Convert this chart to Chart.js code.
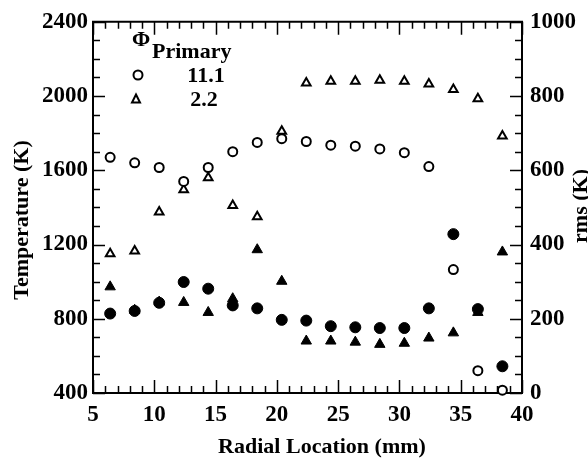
<!DOCTYPE html>
<html>
<head>
<meta charset="utf-8">
<script src="https://cdn.jsdelivr.net/npm/chart.js@4"></script>
<style>
  html, body { margin: 0; padding: 0; background: #fff; }
  #wrap { width: 588px; height: 461px; position: relative; }
</style>
</head>
<body>
<div id="wrap"><canvas id="tempChart"></canvas></div>
<script>
// Radial positions (mm)
const radial = [6.4, 8.4, 10.4, 12.4, 14.4, 16.4, 18.4, 20.4, 22.4, 24.4, 26.4, 28.4, 30.4, 32.4, 34.4, 36.4, 38.4];

// Mean temperature (K), left axis
const tempPhi11 = [1670, 1640, 1615, 1540, 1615, 1700, 1750, 1770, 1755, 1735, 1730, 1715, 1695, 1620, 1065, 520, 415];
const tempPhi22 = [1150, 1165, 1375, 1495, 1560, 1410, 1350, 1810, 2070, 2080, 2080, 2085, 2080, 2065, 2035, 1985, 1785];

// rms temperature (K), right axis
const rmsPhi11 = [214, 221, 243, 299, 281, 236, 228, 197, 195, 180, 177, 175, 175, 228, 428, 226, 72];
const rmsPhi22 = [286, 223, 245, 244, 217, 254, 386, 301, 140, 140, 137, 131, 134, 148, 162, 217, 380];

// Axis ticks
const xTicks = [5, 10, 15, 20, 25, 30, 35, 40];
const tempTicks = [400, 800, 1200, 1600, 2000, 2400];
const rmsTicks = [0, 200, 400, 600, 800, 1000];
const xMinorStep = 1;
const tempMinorStep = 100;
const rmsMinorStep = 50;

// Legend
const legendTitle = 'Φ';
const legendSub = 'Primary';
const legendLabels = ['11.1', '2.2'];

const FONT = "'Liberation Serif', 'DejaVu Serif', serif";
const tickFont = { family: FONT, size: 23, weight: 'bold' };

function pts(ys) {
    return radial.map((x, i) => ({ x: x, y: ys[i] }));
}

// inward tick marks, top border, axis titles, legend
const decorPlugin = {
    id: 'decor',
    afterDraw(chart) {
        const ctx = chart.ctx;
        const a = chart.chartArea;
        const sx = chart.scales.x, sy = chart.scales.y, sr = chart.scales.y2;
        ctx.save();
        ctx.strokeStyle = '#000';
        ctx.lineWidth = 2;

        // top border
        ctx.beginPath();
        ctx.moveTo(a.left - 1, a.top);
        ctx.lineTo(a.right + 1, a.top);
        ctx.stroke();

        ctx.lineWidth = 1.5;
        ctx.beginPath();
        // x ticks, bottom and top
        for (let v = sx.min; v <= sx.max + 1e-6; v += xMinorStep) {
            const px = Math.round(sx.getPixelForValue(v)) + 0.5;
            const len = (v % 5 === 0) ? 13 : 7;
            ctx.moveTo(px, a.bottom); ctx.lineTo(px, a.bottom - len);
            ctx.moveTo(px, a.top); ctx.lineTo(px, a.top + len);
        }
        // left ticks
        for (let v = sy.min; v <= sy.max + 1e-6; v += tempMinorStep) {
            const py = Math.round(sy.getPixelForValue(v)) + 0.5;
            const len = (v % 400 === 0) ? 12 : 7;
            ctx.moveTo(a.left, py); ctx.lineTo(a.left + len, py);
        }
        // right ticks
        for (let v = sr.min; v <= sr.max + 1e-6; v += rmsMinorStep) {
            const py = Math.round(sr.getPixelForValue(v)) + 0.5;
            const len = (v % 200 === 0) ? 12 : 7;
            ctx.moveTo(a.right, py); ctx.lineTo(a.right - len, py);
        }
        ctx.stroke();

        // axis titles
        ctx.fillStyle = '#000';
        ctx.font = 'bold 22px ' + FONT;
        ctx.textAlign = 'center';
        ctx.textBaseline = 'alphabetic';
        ctx.fillText('Radial Location (mm)', 322, 453);

        ctx.save();
        ctx.translate(28, 220);
        ctx.rotate(-Math.PI / 2);
        ctx.fillText('Temperature (K)', 0, 0);
        ctx.restore();

        ctx.save();
        ctx.translate(587, 206);
        ctx.rotate(-Math.PI / 2);
        ctx.fillText('rms (K)', 0, 0);
        ctx.restore();

        // legend
        ctx.textAlign = 'left';
        ctx.font = 'bold 22px ' + FONT;
        ctx.fillText(legendTitle, 132, 46);
        ctx.fillText(legendSub, 152, 58);
        ctx.textAlign = 'center';
        ctx.fillText(legendLabels[0], 206, 82);
        ctx.fillText(legendLabels[1], 204, 106);

        ctx.lineWidth = 2;
        ctx.beginPath();
        ctx.arc(138, 75, 4.5, 0, Math.PI * 2);
        ctx.stroke();
        ctx.beginPath();
        ctx.moveTo(136, 94.5);
        ctx.lineTo(140, 102.5);
        ctx.lineTo(132, 102.5);
        ctx.closePath();
        ctx.stroke();
        ctx.restore();
    }
};

function initChart() {
    const ctx = document.getElementById('tempChart').getContext('2d');
    new Chart(ctx, {
        type: 'scatter',
        data: {
            datasets: [{
                label: '11.1',
                data: pts(tempPhi11),
                yAxisID: 'y',
                pointStyle: 'circle',
                pointRadius: 4.5,
                borderColor: '#000',
                backgroundColor: '#fff',
                borderWidth: 2
            }, {
                label: '2.2',
                data: pts(tempPhi22),
                yAxisID: 'y',
                pointStyle: 'triangle',
                pointRadius: 5,
                borderColor: '#000',
                backgroundColor: '#fff',
                borderWidth: 2
            }, {
                label: 'rms 11.1',
                data: pts(rmsPhi11),
                yAxisID: 'y2',
                pointStyle: 'circle',
                pointRadius: 5.5,
                borderColor: '#000',
                backgroundColor: '#000',
                borderWidth: 1
            }, {
                label: 'rms 2.2',
                data: pts(rmsPhi22),
                yAxisID: 'y2',
                pointStyle: 'triangle',
                pointRadius: 6,
                borderColor: '#000',
                backgroundColor: '#000',
                borderWidth: 1
            }]
        },
        options: {
            responsive: true,
            maintainAspectRatio: false,
            animation: false,
            clip: false,
            layout: { padding: { top: 18, left: 0, right: 0, bottom: 0 } },
            plugins: {
                legend: { display: false },
                tooltip: { enabled: false }
            },
            scales: {
                x: {
                    type: 'linear',
                    min: 5,
                    max: 40,
                    afterBuildTicks: (s) => { s.ticks = xTicks.map(v => ({ value: v })); },
                    afterFit: (s) => { s.height = 68; },
                    grid: { display: false, drawTicks: false },
                    border: { display: true, color: '#000', width: 2 },
                    ticks: { color: '#000', padding: 8, maxRotation: 0, font: tickFont, callback: (v) => String(v) }
                },
                y: {
                    type: 'linear',
                    position: 'left',
                    min: 400,
                    max: 2400,
                    afterBuildTicks: (s) => { s.ticks = tempTicks.map(v => ({ value: v })); },
                    afterFit: (s) => { s.width = 93; },
                    grid: { display: false, drawTicks: false },
                    border: { display: true, color: '#000', width: 2 },
                    ticks: { color: '#000', padding: 5, font: tickFont, callback: (v) => String(v) }
                },
                y2: {
                    type: 'linear',
                    position: 'right',
                    min: 0,
                    max: 1000,
                    afterBuildTicks: (s) => { s.ticks = rmsTicks.map(v => ({ value: v })); },
                    afterFit: (s) => { s.width = 66; },
                    grid: { display: false, drawTicks: false },
                    border: { display: true, color: '#000', width: 2 },
                    ticks: { color: '#000', padding: 8, font: tickFont, callback: (v) => String(v) }
                }
            }
        },
        plugins: [decorPlugin]
    });
}

window.addEventListener('DOMContentLoaded', initChart);
</script>
</body>
</html>
